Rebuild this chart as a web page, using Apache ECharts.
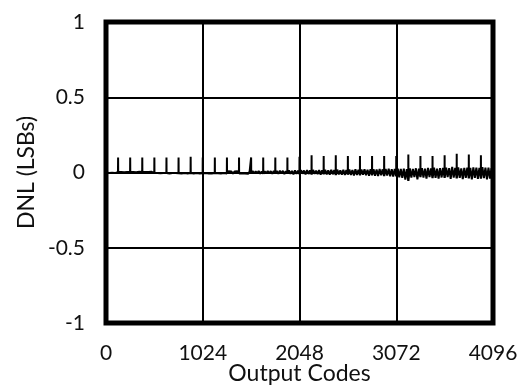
<!DOCTYPE html>
<html><head><meta charset="utf-8">
<script src="https://cdn.jsdelivr.net/npm/echarts@6/dist/echarts.min.js"></script>
<style>html,body{margin:0;padding:0;background:#fff}#c{width:528px;height:386px}</style>
</head><body><div id="c"></div>
<script>
// X tick labels (output codes) and Y tick labels (LSBs)
const xTicks = [0, 1024, 2048, 3072, 4096];
const yTicks = [-1, -0.5, 0, 0.5, 1];
// Baseline DNL read every 16 codes (0..4096)
const baseStep = 16;
const baseline = [
 0,0.003,-0.003,0.004,-0.002,0.003,-0.004,0.002,0.003,-0.003,0.004,-0.002,0.002,-0.004,0.003,-0.002,
 0.003,-0.004,0.004,-0.003,0.002,-0.004,0.005,-0.003,0.003,-0.005,0.004,-0.002,0.003,-0.004,0.005,-0.003,
 -0.004,0.005,-0.003,0.004,-0.005,0.003,-0.004,0.005,-0.003,0.004,-0.006,0.003,-0.004,0.005,-0.003,0.004,
 -0.005,0.004,-0.006,0.005,-0.004,0.003,-0.006,0.005,-0.004,0.004,-0.007,0.005,-0.003,0.004,-0.006,0.003,
 -0.005,0.006,-0.004,0.007,-0.006,0.005,-0.007,0.006,-0.004,0.007,-0.005,0.006,-0.007,0.005,-0.004,0.007,
 -0.006,0.008,-0.005,0.007,-0.008,0.006,-0.005,0.009,-0.007,0.006,-0.005,0.008,-0.006,0.007,-0.009,0.006,
 -0.005,0.009,-0.007,0.008,-0.006,0.010,-0.008,0.007,-0.009,0.008,-0.006,0.010,-0.007,0.009,-0.008,0.011,
 -0.007,0.010,-0.009,0.012,-0.006,0.011,-0.010,0.009,-0.007,0.013,-0.008,0.011,-0.012,0.014,-0.009,0.012,
 -0.010,0.015,-0.008,0.013,-0.012,0.016,-0.010,0.014,-0.013,0.017,-0.009,0.013,-0.011,0.016,-0.014,0.015,
 -0.011,0.017,-0.013,0.014,-0.015,0.018,-0.012,0.016,-0.016,0.019,-0.013,0.015,-0.014,0.018,-0.017,0.017,
 -0.014,0.019,-0.017,0.016,-0.020,0.021,-0.016,0.018,-0.018,0.020,-0.015,0.022,-0.019,0.019,-0.021,0.021,
 -0.018,0.022,-0.021,0.020,-0.023,0.024,-0.019,0.021,-0.024,0.023,-0.020,0.025,-0.026,0.022,-0.027,0.024,
 -0.026,0.026,-0.032,0.024,-0.036,0.025,-0.048,0.022,-0.055,0.027,-0.034,0.024,-0.030,0.028,-0.045,0.025,
 -0.030,0.029,-0.034,0.026,-0.040,0.030,-0.031,0.027,-0.037,0.032,-0.035,0.026,-0.041,0.029,-0.033,0.031,
 -0.036,0.032,-0.031,0.029,-0.042,0.037,-0.034,0.030,-0.039,0.034,-0.035,0.028,-0.044,0.031,-0.036,0.033,
 -0.039,0.030,-0.045,0.034,-0.035,0.032,-0.042,0.031,-0.040,0.036,-0.037,0.032,-0.046,0.033,-0.041,0.029,
 -0.015
];
// Spikes at major carry codes (every 128 codes)
const spikeCodes = [128,256,384,512,640,768,896,1024,1152,1280,1408,1536,1664,1792,1920,2048,
  2176,2304,2432,2560,2688,2816,2944,3072,3200,3328,3456,3584,3712,3840,3968];
const spikeHeights = [0.10,0.10,0.10,0.10,0.10,0.10,0.105,0.10,0.10,0.10,0.10,0.10,0.10,0.10,0.10,0.105,
  0.115,0.11,0.115,0.11,0.11,0.11,0.11,0.11,0.12,0.11,0.11,0.115,0.125,0.12,0.115];

const pts = [];
baseline.forEach((v, i) => {
  const code = i * baseStep;
  const si = spikeCodes.indexOf(code);
  if (si >= 0) {
    pts.push([code - 1, v]);
    pts.push([code, spikeHeights[si]]);
    pts.push([code + 1, v]);
  } else {
    pts.push([code, v]);
  }
});

const chart = echarts.init(document.getElementById('c'), null, {renderer: 'canvas'});
const font = 'Lato';
const txt = '#111';
chart.setOption({
  animation: false,
  backgroundColor: '#fff',
  grid: {left: 106, right: 35, top: 22, bottom: 63, containLabel: false, outerBoundsMode: 'none',
         show: true, borderColor: '#000', borderWidth: 5, backgroundColor: 'transparent'},
  xAxis: {
    type: 'value', min: xTicks[0], max: xTicks[xTicks.length - 1], interval: 1024,
    name: 'Output Codes', nameLocation: 'middle', nameGap: 39, nameMoveOverlap: false,
    nameTextStyle: {fontFamily: font, fontSize: 23, color: txt},
    axisLine: {show: false}, axisTick: {show: false},
    axisLabel: {fontFamily: font, fontSize: 21, color: txt, margin: 20, formatter: v => String(v)},
    splitLine: {show: true, lineStyle: {color: '#000', width: 2}}
  },
  yAxis: {
    type: 'value', min: yTicks[0], max: yTicks[yTicks.length - 1], interval: 0.5,
    name: 'DNL (LSBs)', nameLocation: 'middle', nameGap: 68, nameMoveOverlap: false,
    nameTextStyle: {fontFamily: font, fontSize: 23, color: txt},
    axisLine: {show: false}, axisTick: {show: false},
    axisLabel: {fontFamily: font, fontSize: 21, color: txt, margin: 21, formatter: v => String(v)},
    splitLine: {show: true, lineStyle: {color: '#000', width: 2}}
  },
  series: [{
    type: 'line', data: pts, showSymbol: false, symbol: 'none',
    lineStyle: {color: '#000', width: 2}, silent: true
  }]
});
</script></body></html>
